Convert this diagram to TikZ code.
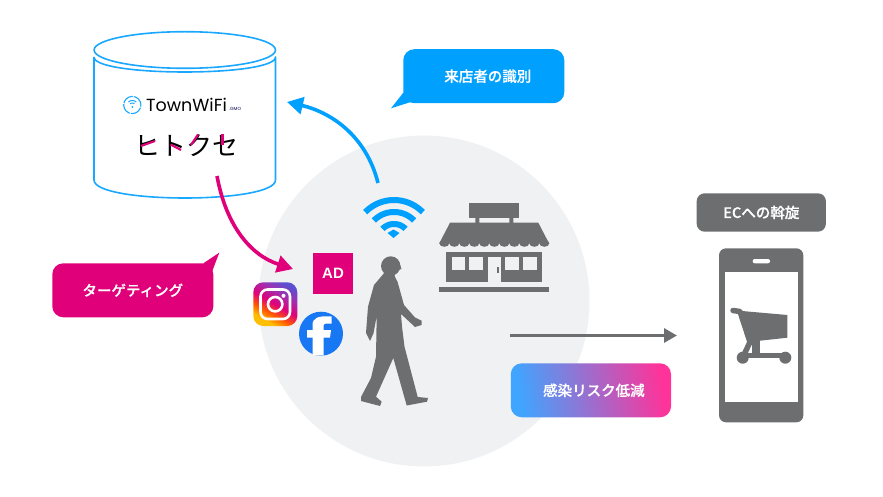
\documentclass[tikz,border=0pt]{standalone}
\usepackage{fontspec}
\newfontfamily\cjk{Noto Sans CJK JP}[BoldFont={Noto Sans CJK JP Medium},BoldFeatures={FakeBold=0.5}]
\newfontfamily\logofont{Poppins}
\newfontfamily\adfont{Liberation Sans}
\usetikzlibrary{arrows.meta}
\definecolor{tealblue}{HTML}{00A0FF}
\definecolor{cylblue}{HTML}{1AA7FF}
\definecolor{magent}{HTML}{E0007A}
\definecolor{darkgrey}{HTML}{6D6E70}
\definecolor{roundbg}{HTML}{F0F1F3}
\definecolor{fbblue}{HTML}{1877F2}
\definecolor{riskblue}{HTML}{3FA5FF}
\definecolor{riskpink}{HTML}{FF3399}
\definecolor{instapurple}{HTML}{A030B0}
\definecolor{instablue}{HTML}{5B50D0}
\pgfdeclareverticalshading{insta}{100bp}{color(0bp)=(orange!50!yellow); color(28bp)=(orange!50!yellow); color(38bp)=(orange!70!red); color(50bp)=(magent); color(64bp)=(instapurple); color(76bp)=(instablue); color(100bp)=(instablue)}
\tikzset{
	lbl/.style={inner sep=0pt, text=white, font=\cjk\bfseries\fontsize{14.5}{16}\selectfont, rounded corners=11pt, minimum height=54pt},
	bigarrow/.style={line width=3.6pt, -{Triangle[length=16pt,width=17pt]}},
	pinkstroke/.style={magent,line width=2.1pt},
}
\begin{document}
\begin{tikzpicture}[x=1pt,y=-1pt,line join=round]
	\useasboundingbox (0,0) rectangle (883,497);
	\def\wx{394} \def\wy{240} % wifi centre
	\fill[roundbg] (424,301) circle[radius=165.5pt];
	% cylinder
	\draw[cylblue,line width=1.6pt] (94,57)--(94,180) .. controls (94,204) and (275.5,204) .. (275.5,180)--(275.5,57) .. controls (275.5,77) and (94,77) .. (94,57);
	\draw[cylblue,line width=1.6pt,fill=white] (184.8,50) ellipse[x radius=90.7pt,y radius=18.3pt];
	% logos in the cylinder
	\draw[cylblue,line width=1.1pt,dash pattern=on 12pt off 1pt] (132.3,105) circle[radius=8.6pt];
	\foreach \r in {3,5.5} \draw[cylblue,line width=1pt] plot[domain=-135:-45,samples=12] ({132.3+\r*cos(\x)},{106+\r*sin(\x)});
	\fill[cylblue] (132.3,107) circle[radius=1pt];
	\node[anchor=west,inner sep=0pt,font=\logofont\fontsize{17.5}{18}\selectfont] (townwifi) at (146,104.5) {TownWiFi};
	\node[anchor=west,inner sep=0pt,text=black!70!blue,font=\logofont\fontsize{4.5}{5}\selectfont] (gmo) at (229,108.5) {.GMO};
	\node[inner sep=0pt,font=\cjk\fontsize{26}{28}\selectfont] (hitokuse) at (186,146) {ヒトクセ};
	\draw[pinkstroke] (141,146)--(155,141);
	\draw[pinkstroke] (170.5,144.5)--(181,150);
	\draw[pinkstroke] (198,134.5)--(191,145);
	\draw[pinkstroke] (222.5,134)--(222.5,145);
	% labels
	\fill[tealblue] (403.3,92.7)--(391,108.3)--(411.7,101.7)--cycle;
	\node[lbl,fill=tealblue,minimum width=161pt] (visitor) at (483.8,76.2) {\hspace{8pt}来店者の識別};
	\fill[magent] (203.3,263.3)--(219.3,252.7)--(212,271.7)--cycle;
	\node[lbl,fill=magent,minimum width=161pt] (target) at (132.8,290.3) {ターゲティング};
	\node[lbl,minimum width=160.3pt,left color=riskblue,right color=riskpink,shading angle=100] (risk) at (590.9,390.3) {\hspace{6pt}感染リスク低減};
	\node[lbl,fill=darkgrey,minimum width=129.3pt,minimum height=38.4pt,rounded corners=8pt] (ec) at (761.3,212.5) {ECへの斡旋};
	% arrows
	\coordinate (bluefrom) at (378,183); \coordinate (blueto) at (287,102);
	\coordinate (pinkfrom) at (217,176); \coordinate (pinkto) at (293,269);
	\coordinate (greyfrom) at (510,335.5); \coordinate (greyto) at (677,335.5);
	\draw[bigarrow,tealblue] (bluefrom) .. controls (366,135) and (330,112) .. (blueto);
	\draw[bigarrow,magent] (pinkfrom) .. controls (226,225) and (250,255) .. (pinkto);
	\draw[darkgrey,line width=3pt,-{Triangle[length=13pt,width=14pt]}] (greyfrom)--(greyto);
	% wifi
	\foreach \r in {40,28,16} \draw[tealblue,line width=6pt] plot[domain=-136:-44,samples=30] ({\wx+\r*cos(\x)},{\wy+\r*sin(\x)});
	\fill[tealblue] (393.5,238)--(387.5,233)--(393.5,229.5)--(399.5,233)--cycle;
	% AD
	\node[fill=magent,text=white,minimum size=40.6pt,inner sep=0pt,font=\adfont\bfseries\fontsize{15}{16}\selectfont] (ad) at (333,273.7) {AD};
	% instagram
	\shade[rounded corners=10pt,shading=insta,shading angle=-30] (253.3,282.3) rectangle (297.3,326);
	\draw[white,line width=2.6pt,rounded corners=7pt] (260.5,289.5) rectangle (290,319);
	\draw[white,line width=2.6pt] (275.2,304.2) circle[radius=7.2pt];
	\fill[white] (283.5,295.8) circle[radius=2pt];
	% facebook
	\fill[fbblue] (321,333.7) circle[radius=22pt];
	\fill[white] (312.5,355)--(312.5,337.5)--(307,337.5)--(307,330)--(312.5,330)--(312.5,325) .. controls (312.5,318) and (318,315.5) .. (331.5,316.5)--(331.5,323.5)--(326,323.5) .. controls (324,323.5) and (323.5,325) .. (323.5,326)--(323.5,330)--(331,330)--(330,337.5)--(323.5,337.5)--(323.5,355.5)--cycle;
	% person
	\fill[darkgrey] (390.7,266) circle[radius=9.7pt];
	\fill[darkgrey] (399,262)--(401.5,269)--(398,270)--(396,274)--cycle;
	\fill[darkgrey] (385,272)--(394,272)--(395,277)--(397.5,281.7)--(404,305)--(415,317.5)--(421.5,320.7)--(421.5,325)--(415,327)--(401,314)--(402,326.7)--(404.5,346.7)--(417.7,397)--(428,398)--(427,401.7)--(406.7,405.5)--(393.3,358)--(376,396.7)--(381.7,401.7)--(380,406)--(361,401)--(361,397)--(371,378)--(376,356.7)--(376.7,316)--(373.5,333.3)--(370,341)--(366,333)--(368,306.7)--(374,285)--cycle;
	% store
	\fill[darkgrey] (469.3,203.3) rectangle (519,217.7);
	\fill[darkgrey] (475.3,217) rectangle (479.3,223) (509.3,217) rectangle (513.3,223);
	\fill[darkgrey] (450,222.7)--(538.3,222.7)--(549,243.3)--(439.3,243.3)--cycle;
	\foreach \i in {0,...,10} \fill[darkgrey] (444.3+\i*10,243.3) ellipse[x radius=5pt,y radius=3.5pt];
	\fill[darkgrey] (445.7,251.7) rectangle (542.3,281.7);
	\foreach \i in {451.7,469.3,505.3,523.3} \fill[roundbg] (\i,257.3) rectangle (\i+13.3,270);
	\fill[roundbg] (487.7,257.3) rectangle (500.7,282);
	\fill[darkgrey] (496.7,266.7) rectangle (498.7,273.3);
	\fill[darkgrey] (439.3,286.7) rectangle (549,292);
	% phone
	\fill[darkgrey,rounded corners=7pt] (719,248.3) rectangle (803.3,422.3);
	\fill[white] (724.7,271.7) rectangle (798,401.7);
	\fill[white,rounded corners=2pt] (752.7,259) rectangle (770,263.3);
	% cart
	\draw[darkgrey,line width=5.5pt,line cap=round] (733,310.5)--(740,311.5)--(750,342)--(743,357);
	\fill[darkgrey] (742,311)--(787.3,315)--(787.3,337.7)--(751,341.7)--cycle;
	\draw[darkgrey,line width=5pt] (745,355.5)--(784,355.5);
	\fill[darkgrey] (752,340) rectangle (760,355);
	\fill[darkgrey] (742.7,357.7) circle[radius=6pt] (785.3,357.7) circle[radius=6pt];
\end{tikzpicture}
\end{document}
